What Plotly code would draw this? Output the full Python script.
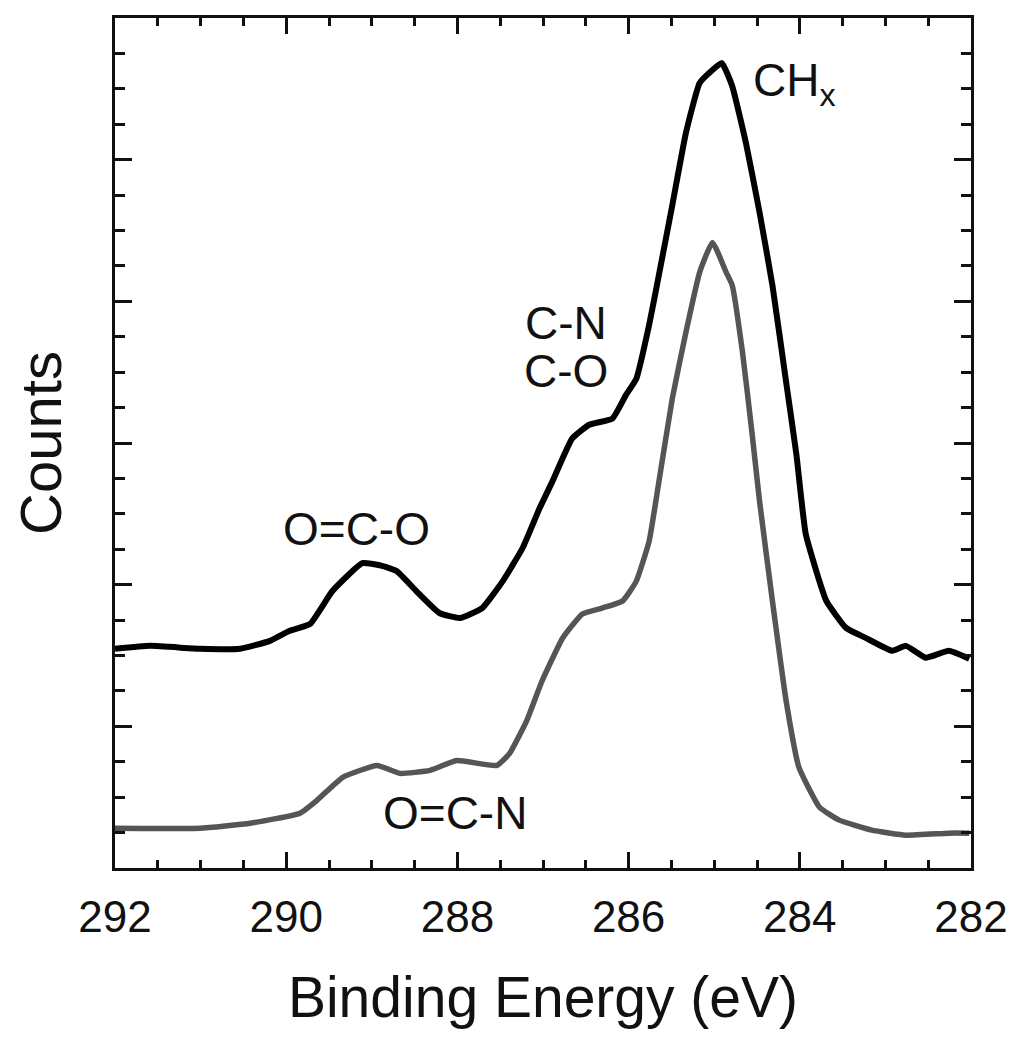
import plotly.graph_objects as go

# Binding energy (eV) and counts (arbitrary, offset)
be_top = [292.00, 291.59, 291.01, 290.54, 290.19, 289.96, 289.72, 289.46, 289.11, 288.87,
          288.71, 288.48, 288.21, 287.97, 287.71, 287.47, 287.24, 287.04, 286.89, 286.66,
          286.46, 286.19, 286.03, 285.91, 285.76, 285.64, 285.49, 285.33, 285.17, 285.02,
          284.91, 284.79, 284.63, 284.47, 284.32, 284.16, 284.04, 283.93, 283.69, 283.46,
          283.23, 282.92, 282.76, 282.53, 282.26, 282.02]
counts_top = [1.547, 1.568, 1.547, 1.547, 1.603, 1.674, 1.723, 1.955, 2.152, 2.131,
              2.096, 1.955, 1.800, 1.765, 1.835, 2.025, 2.257, 2.539, 2.729, 3.031,
              3.129, 3.172, 3.340, 3.453, 3.833, 4.205, 4.677, 5.190, 5.541, 5.633,
              5.682, 5.520, 5.120, 4.627, 4.114, 3.432, 2.920, 2.356, 1.885, 1.695,
              1.624, 1.533, 1.568, 1.484, 1.533, 1.477]

be_bot = [292.00, 291.01, 290.42, 289.84, 289.64, 289.34, 288.94, 288.67, 288.32, 288.01,
          287.54, 287.39, 287.19, 287.01, 286.77, 286.54, 286.31, 286.07, 285.91, 285.76,
          285.64, 285.49, 285.33, 285.17, 285.02, 284.86, 284.79, 284.67, 284.56, 284.47,
          284.32, 284.16, 284.01, 283.77, 283.54, 283.16, 282.76, 282.26, 282.02]
counts_bot = [0.281, 0.281, 0.316, 0.387, 0.478, 0.640, 0.724, 0.668, 0.689, 0.759,
              0.724, 0.809, 1.041, 1.322, 1.624, 1.793, 1.835, 1.885, 2.025, 2.307,
              2.750, 3.312, 3.783, 4.205, 4.416, 4.205, 4.114, 3.643, 3.080, 2.588,
              1.885, 1.181, 0.710, 0.429, 0.338, 0.267, 0.232, 0.246, 0.246]

x_ticks = [292, 290, 288, 286, 284, 282]

FONT = "Liberation Sans, Arial, Helvetica, sans-serif"

fig = go.Figure()
fig.add_trace(go.Scatter(x=be_bot, y=counts_bot, mode="lines",
                         line=dict(color="#555555", width=5.5, shape="spline", smoothing=0.4),
                         showlegend=False))
fig.add_trace(go.Scatter(x=be_top, y=counts_top, mode="lines",
                         line=dict(color="#000000", width=6, shape="spline", smoothing=0.4),
                         showlegend=False))

ann_font = dict(family=FONT, size=46, color="#111111")
fig.add_annotation(x=289.18, y=2.39, text="O=C-O", showarrow=False, font=ann_font)
fig.add_annotation(x=288.03, y=0.39, text="O=C-N", showarrow=False, font=ann_font)
fig.add_annotation(x=286.73, y=3.85, text="C-N", showarrow=False, font=ann_font)
fig.add_annotation(x=286.73, y=3.51, text="C-O", showarrow=False, font=ann_font)
fig.add_annotation(x=284.57, y=5.54, text="CH<sub>x</sub>", showarrow=False,
                   font=ann_font, xanchor="left")

fig.update_layout(
    width=1025, height=1050,
    margin=dict(l=107, r=62, t=7, b=190),
    paper_bgcolor="white", plot_bgcolor="white",
    font=dict(family=FONT, color="#111111"),
    xaxis=dict(
        range=[292, 282], tickvals=x_ticks, ticktext=[str(v) for v in x_ticks],
        ticks="inside", ticklen=16, tickwidth=3, tickcolor="#111111",
        minor=dict(dtick=0.5, ticks="inside", ticklen=8, tickwidth=3, tickcolor="#111111"),
        showline=True, linewidth=3, linecolor="#111111", mirror="allticks",
        showgrid=False, zeroline=False, ticklabelstandoff=8,
        tickfont=dict(family=FONT, size=44, color="#111111"),
        title=dict(text="Binding Energy (eV)", font=dict(family=FONT, size=57, color="#111111"),
                   standoff=38),
    ),
    yaxis=dict(
        range=[0, 6], dtick=1, showticklabels=False,
        ticks="inside", ticklen=17, tickwidth=3, tickcolor="#111111",
        minor=dict(dtick=0.25, ticks="inside", ticklen=10, tickwidth=3, tickcolor="#111111"),
        showline=True, linewidth=3, linecolor="#111111", mirror="allticks",
        showgrid=False, zeroline=False,
        title=dict(text="Counts", font=dict(family=FONT, size=58, color="#111111"), standoff=38),
    ),
)

fig.write_html("out.html")
